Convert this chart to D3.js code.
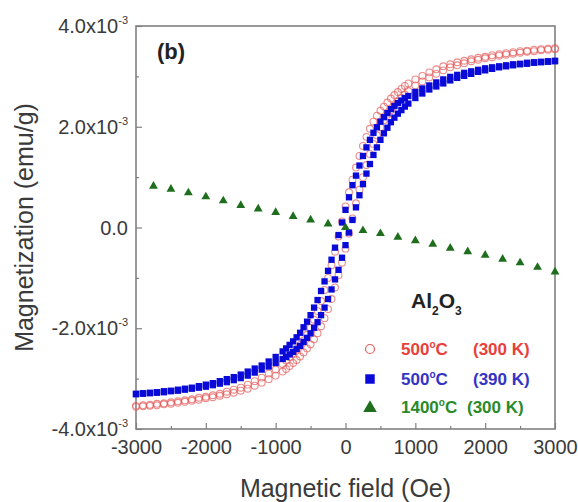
<!DOCTYPE html>
<html>
<head>
<meta charset="utf-8">
<script src="https://cdn.jsdelivr.net/npm/d3@7/dist/d3.min.js"></script>
<style>
    body { margin: 0; background: #fff; }
    .vis-chart { width: 578px; height: 502px; }
    text { font-family: "Liberation Sans", Arial, sans-serif; }
</style>
</head>
<body>
<div class="vis-chart"></div>
<script>
// magnetic field grid (Oe) shared by the loop branches
const fieldGrid = [-3000, -2900, -2800, -2700, -2600, -2500, -2400, -2300, -2200, -2100, -2000, -1900, -1800, -1700, -1600, -1500, -1400, -1300, -1200, -1100, -1000, -900,
    -850, -800, -750, -700, -650, -600, -550, -500, -450, -400, -350, -300, -250, -200, -150, -100, -50, 0, 50, 100, 150, 200, 250, 300, 350, 400, 450, 500, 550, 600, 650, 700, 750, 800, 850,
    900, 1000, 1100, 1200, 1300, 1400, 1500, 1600, 1700, 1800, 1900, 2000, 2100, 2200, 2300, 2400, 2500, 2600, 2700, 2800, 2900, 3000]

// magnetization in units of 1e-3 emu/g
// 500 C (300 K), descending and ascending branch
const red500Down = [-3.54, -3.53, -3.52, -3.50, -3.49, -3.47, -3.45, -3.43, -3.41, -3.38, -3.36, -3.33, -3.30, -3.26, -3.22, -3.18, -3.12, -3.05, -2.98, -2.90, -2.82, -2.71,
    -2.64, -2.57, -2.50, -2.42, -2.33, -2.24, -2.13, -1.99, -1.83, -1.66, -1.46, -1.24, -1.00, -0.75, -0.48, -0.18, 0.12, 0.42, 0.70, 0.95, 1.19, 1.42, 1.62, 1.80, 1.96, 2.10, 2.22, 2.32, 2.40, 2.48, 2.56, 2.63, 2.69, 2.75, 2.81,
    2.86, 2.94, 3.01, 3.08, 3.14, 3.20, 3.24, 3.28, 3.31, 3.34, 3.37, 3.39, 3.42, 3.44, 3.46, 3.48, 3.50, 3.51, 3.53, 3.54, 3.55, 3.56]
const red500Up = [-3.56, -3.55, -3.54, -3.53, -3.51, -3.50, -3.48, -3.46, -3.44, -3.42, -3.39, -3.37, -3.34, -3.31, -3.28, -3.24, -3.20, -3.14, -3.08, -3.01, -2.94, -2.86,
    -2.81, -2.75, -2.69, -2.63, -2.56, -2.48, -2.40, -2.32, -2.22, -2.10, -1.96, -1.80, -1.62, -1.42, -1.19, -0.95, -0.70, -0.42, -0.12, 0.18, 0.48, 0.75, 1.00, 1.24, 1.46, 1.66, 1.83, 1.99, 2.13, 2.24, 2.33, 2.42, 2.50, 2.57, 2.64,
    2.71, 2.82, 2.90, 2.98, 3.05, 3.12, 3.18, 3.22, 3.26, 3.30, 3.33, 3.36, 3.38, 3.41, 3.43, 3.45, 3.47, 3.49, 3.50, 3.52, 3.53, 3.54]

// 500 C (390 K)
const blue500Down = [-3.30, -3.29, -3.28, -3.27, -3.25, -3.24, -3.22, -3.20, -3.18, -3.15, -3.12, -3.09, -3.05, -3.01, -2.97, -2.92, -2.86, -2.80, -2.74, -2.66, -2.57, -2.46,
    -2.40, -2.33, -2.26, -2.18, -2.09, -1.98, -1.87, -1.74, -1.59, -1.44, -1.26, -1.07, -0.86, -0.64, -0.40, -0.15, 0.10, 0.35, 0.60, 0.84, 1.03, 1.23, 1.42, 1.59, 1.74, 1.88, 1.99, 2.10, 2.19, 2.27, 2.35, 2.41, 2.47, 2.52, 2.57,
    2.61, 2.69, 2.76, 2.82, 2.88, 2.94, 2.99, 3.03, 3.07, 3.10, 3.13, 3.16, 3.18, 3.20, 3.22, 3.24, 3.25, 3.27, 3.28, 3.29, 3.30, 3.31]
const blue500Up = [-3.31, -3.30, -3.29, -3.28, -3.27, -3.25, -3.24, -3.22, -3.20, -3.18, -3.16, -3.13, -3.10, -3.07, -3.03, -2.99, -2.94, -2.88, -2.82, -2.76, -2.69, -2.61,
    -2.57, -2.52, -2.47, -2.41, -2.35, -2.27, -2.19, -2.10, -1.99, -1.88, -1.74, -1.59, -1.42, -1.23, -1.03, -0.84, -0.60, -0.35, -0.10, 0.15, 0.40, 0.64, 0.86, 1.07, 1.26, 1.44, 1.59, 1.74, 1.87, 1.98, 2.09, 2.18, 2.26, 2.33, 2.40,
    2.46, 2.57, 2.66, 2.74, 2.80, 2.86, 2.92, 2.97, 3.01, 3.05, 3.09, 3.12, 3.15, 3.18, 3.20, 3.22, 3.24, 3.25, 3.27, 3.28, 3.29, 3.30]

// 1400 C (300 K)
const green1400Field = [-2750, -2500, -2250, -2000, -1750, -1500, -1250, -1000, -750, -500, -250, 0, 250, 500, 750, 1000, 1250, 1500, 1750, 2000, 2250, 2500, 2750, 3000]
const green1400M = [0.82, 0.76, 0.69, 0.61, 0.53, 0.44, 0.37, 0.30, 0.22, 0.15, 0.07, 0.0, -0.06, -0.12, -0.19, -0.26, -0.33, -0.41, -0.48, -0.55, -0.63, -0.70, -0.79, -0.88]

const xTicks = [-3000, -2000, -1000, 0, 1000, 2000, 3000]
const xMinorTicks = [-2500, -1500, -500, 500, 1500, 2500]
const yTicks = [-4, -2, 0, 2, 4]
const yMinorTicks = [-3, -1, 1, 3]
const yTickMantissa = ['-4.0x10', '-2.0x10', '0.0', '2.0x10', '4.0x10']
const yTickExponent = ['-3', '-3', '', '-3', '-3']

const legendTemp = ['500', '500', '1400']
const legendMeas = ['(300 K)', '(390 K)', '(300 K)']

const dimensions = {
    width: 578,
    height: 502,
    margin: {
        top: 26,
        right: 23,
        bottom: 73,
        left: 136
    }
}
dimensions.boundedWidth = dimensions.width - dimensions.margin.left - dimensions.margin.right
dimensions.boundedHeight = dimensions.height - dimensions.margin.top - dimensions.margin.bottom

const colors = {
    red: '#e45a5a',
    redText: '#e8403a',
    blue: '#0a0ad8',
    blueText: '#3434c4',
    green: '#1e6e1e',
    greenText: '#2a8a2a',
    axis: '#808080',
    text: '#3a3a3a'
}

let visChart = d3.select('.vis-chart').append('svg')
    .attr('width', dimensions.width)
    .attr('height', dimensions.height)
    .style('background-color', '#ffffff')

let bounds = visChart.append('g')
    .attr('transform', 'translate(' + dimensions.margin.left + ',' + dimensions.margin.top + ')')

const xScale = d3.scaleLinear()
    .domain([-3000, 3000])
    .range([0, dimensions.boundedWidth])
const yScale = d3.scaleLinear()
    .domain([-4, 4])
    .range([dimensions.boundedHeight, 0])

drawAxis()
drawPlot()
addAxisText()
drawLegend()

/******** axes and frame ********/
function drawAxis() {
    const xAxis = d3.axisBottom(xScale)
        .tickValues(xTicks)
        .tickSize(-6)
        .tickPadding(11)
        .tickFormat(d => d)
    const xAxisMinor = d3.axisBottom(xScale)
        .tickValues(xMinorTicks)
        .tickSize(-3)
        .tickFormat('')
    const yAxis = d3.axisLeft(yScale)
        .tickValues(yTicks)
        .tickSize(-6)
        .tickFormat('')
    const yAxisMinor = d3.axisLeft(yScale)
        .tickValues(yMinorTicks)
        .tickSize(-3)
        .tickFormat('')

    const gx = bounds.append('g')
        .attr('transform', 'translate(0,' + dimensions.boundedHeight + ')')
        .call(xAxis)
    bounds.append('g')
        .attr('transform', 'translate(0,' + dimensions.boundedHeight + ')')
        .call(xAxisMinor)
    bounds.append('g').call(yAxis)
    bounds.append('g').call(yAxisMinor)

    bounds.selectAll('.domain').remove()
    bounds.selectAll('.tick line')
        .attr('stroke', colors.axis)
        .attr('stroke-width', 1.2)
    gx.selectAll('text')
        .style('font-size', '20px')
        .attr('fill', colors.text)

    // y tick labels with exponent
    const yLabels = bounds.append('g')
        .selectAll('text')
        .data(yTicks)
        .enter().append('text')
        .attr('x', -8)
        .attr('y', d => yScale(d) + 7)
        .attr('text-anchor', 'end')
        .attr('fill', colors.text)
        .style('font-size', '20px')
    yLabels.append('tspan')
        .text((d, i) => yTickMantissa[i])
    yLabels.append('tspan')
        .attr('dy', -9)
        .style('font-size', '11px')
        .text((d, i) => yTickExponent[i])

    bounds.append('rect')
        .attr('width', dimensions.boundedWidth)
        .attr('height', dimensions.boundedHeight)
        .attr('fill', 'none')
        .attr('stroke', colors.axis)
        .attr('stroke-width', 1.6)
}

/******** axis titles ********/
function addAxisText() {
    visChart.append('text')
        .attr('text-anchor', 'middle')
        .attr('transform', 'translate(33,' + (dimensions.margin.top + dimensions.boundedHeight / 2) + ')rotate(-90)')
        .attr('fill', colors.text)
        .style('font-size', '25px')
        .text('Magnetization (emu/g)')

    visChart.append('text')
        .attr('text-anchor', 'middle')
        .attr('x', dimensions.margin.left + dimensions.boundedWidth / 2)
        .attr('y', 497)
        .attr('fill', colors.text)
        .style('font-size', '25px')
        .text('Magnetic field (Oe)')

    bounds.append('text')
        .attr('x', 21)
        .attr('y', 33)
        .attr('fill', '#222')
        .style('font-size', '22px')
        .style('font-weight', 'bold')
        .text('(b)')
}

/******** data points ********/
function drawPlot() {
    const redPoints = fieldGrid.map((h, i) => [h, red500Down[i]])
        .concat(fieldGrid.map((h, i) => [h, red500Up[i]]))
    const bluePoints = fieldGrid.map((h, i) => [h, blue500Down[i]])
        .concat(fieldGrid.map((h, i) => [h, blue500Up[i]]))
    const greenPoints = green1400Field.map((h, i) => [h, green1400M[i]])

    bounds.append('g').selectAll('circle')
        .data(redPoints)
        .enter().append('circle')
        .attr('cx', d => xScale(d[0]))
        .attr('cy', d => yScale(d[1]))
        .attr('r', 3.4)
        .attr('fill', 'none')
        .attr('stroke', colors.red)
        .attr('stroke-opacity', 0.7)
        .attr('stroke-width', 1.1)

    bounds.append('g').selectAll('path')
        .data(bluePoints)
        .enter().append('path')
        .attr('d', d3.symbol(d3.symbolSquare, 40))
        .attr('transform', d => 'translate(' + xScale(d[0]) + ',' + yScale(d[1]) + ')')
        .attr('fill', colors.blue)

    bounds.append('g').selectAll('path')
        .data(greenPoints)
        .enter().append('path')
        .attr('d', d3.symbol(d3.symbolTriangle, 34))
        .attr('transform', d => 'translate(' + xScale(d[0]) + ',' + yScale(d[1]) + ')')
        .attr('fill', colors.green)
}

/******** legend ********/
function drawLegend() {
    // Al2O3 label
    const title = visChart.append('text')
        .attr('x', 411)
        .attr('y', 308)
        .attr('fill', '#222')
        .style('font-size', '21px')
        .style('font-weight', 'bold')
    title.append('tspan').text('Al')
    title.append('tspan').attr('dy', 7).style('font-size', '12px').text('2')
    title.append('tspan').attr('dy', -7).text('O')
    title.append('tspan').attr('dy', 7).style('font-size', '12px').text('3')

    const rowY = [349, 379, 407]
    const textColors = [colors.redText, colors.blueText, colors.greenText]

    visChart.append('circle')
        .attr('cx', 370).attr('cy', rowY[0]).attr('r', 4.5)
        .attr('fill', 'none').attr('stroke', colors.red).attr('stroke-width', 1.2)
    visChart.append('path')
        .attr('d', d3.symbol(d3.symbolSquare, 90))
        .attr('transform', 'translate(370,' + rowY[1] + ')')
        .attr('fill', colors.blue)
    visChart.append('path')
        .attr('d', d3.symbol(d3.symbolTriangle, 80))
        .attr('transform', 'translate(370,' + (rowY[2] + 1) + ')')
        .attr('fill', colors.green)

    legendTemp.forEach((t, i) => {
        const label = visChart.append('text')
            .attr('x', 401)
            .attr('y', rowY[i] + 6)
            .attr('fill', textColors[i])
            .style('font-size', '17px')
            .style('font-weight', 'bold')
        label.append('tspan').text(t)
        label.append('tspan').attr('dy', -7).style('font-size', '10px').text('o')
        label.append('tspan').attr('dy', 7).text('C')

        visChart.append('text')
            .attr('x', i === 2 ? 467 : 473)
            .attr('y', rowY[i] + 6)
            .attr('fill', textColors[i])
            .style('font-size', '17px')
            .style('font-weight', 'bold')
            .text(legendMeas[i])
    })
}
</script>
</body>
</html>
